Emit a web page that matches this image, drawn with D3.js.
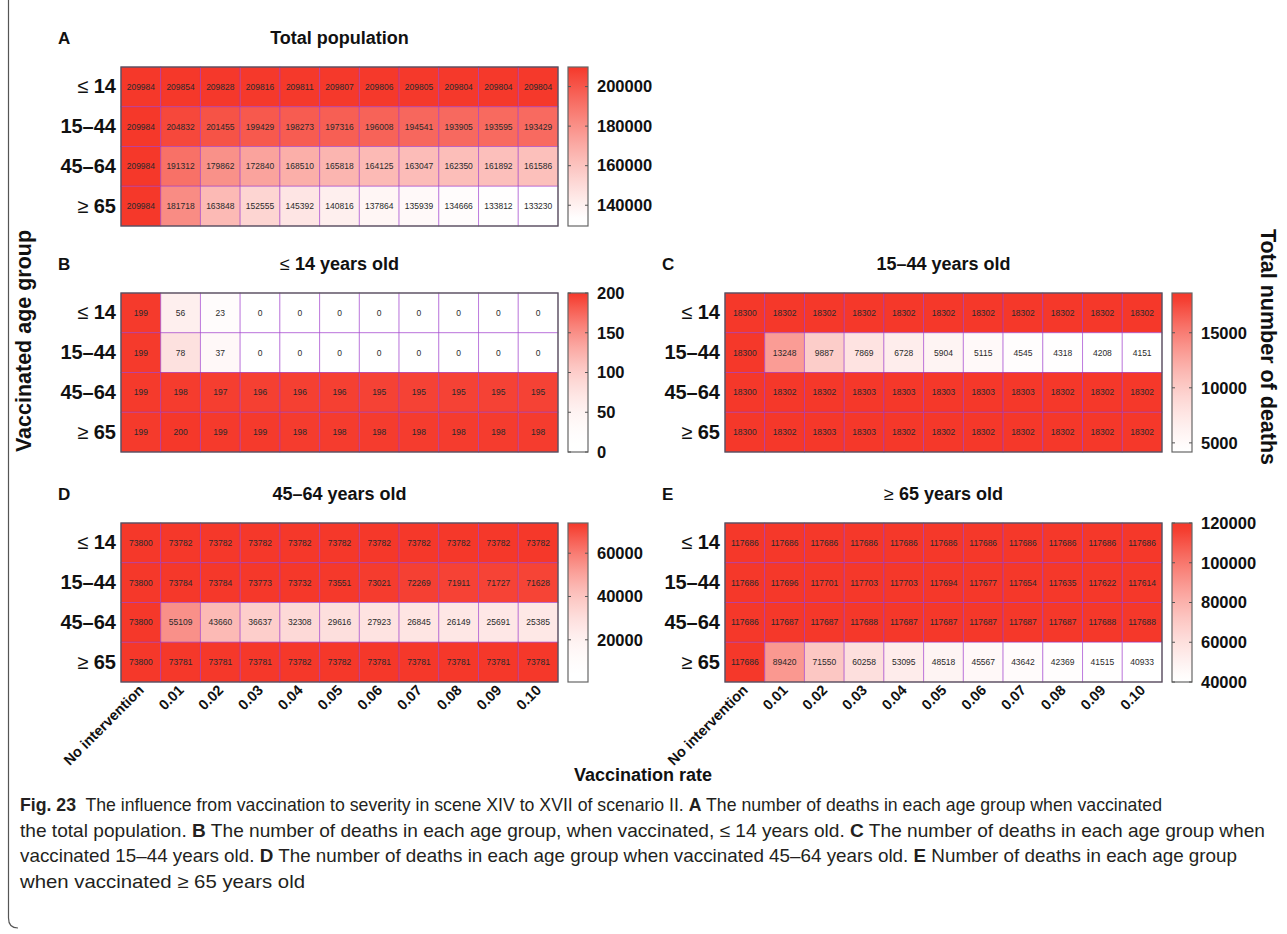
<!DOCTYPE html>
<html>
<head>
<meta charset="utf-8">
<script src="https://cdn.jsdelivr.net/npm/d3@7"></script>
<style>
  body { margin: 0; background: #fff; }
  svg { display: block; }
</style>
</head>
<body>
<div id="chart"></div>
<script>
// Vaccination rate columns and age-group rows
const rates = ['No intervention', '0.01', '0.02', '0.03', '0.04', '0.05', '0.06', '0.07', '0.08', '0.09', '0.10'];
const ageGroups = ['≤ 14', '15–44', '45–64', '≥ 65'];

// A: total population vaccinated
const deathsA = [
  [209984, 209854, 209828, 209816, 209811, 209807, 209806, 209805, 209804, 209804, 209804],
  [209984, 204832, 201455, 199429, 198273, 197316, 196008, 194541, 193905, 193595, 193429],
  [209984, 191312, 179862, 172840, 168510, 165818, 164125, 163047, 162350, 161892, 161586],
  [209984, 181718, 163848, 152555, 145392, 140816, 137864, 135939, 134666, 133812, 133230]
];
// B: <=14 vaccinated
const deathsB = [
  [199, 56, 23, 0, 0, 0, 0, 0, 0, 0, 0],
  [199, 78, 37, 0, 0, 0, 0, 0, 0, 0, 0],
  [199, 198, 197, 196, 196, 196, 195, 195, 195, 195, 195],
  [199, 200, 199, 199, 198, 198, 198, 198, 198, 198, 198]
];
// C: 15-44 vaccinated
const deathsC = [
  [18300, 18302, 18302, 18302, 18302, 18302, 18302, 18302, 18302, 18302, 18302],
  [18300, 13248, 9887, 7869, 6728, 5904, 5115, 4545, 4318, 4208, 4151],
  [18300, 18302, 18302, 18303, 18303, 18303, 18303, 18303, 18302, 18302, 18302],
  [18300, 18302, 18303, 18303, 18302, 18302, 18302, 18302, 18302, 18302, 18302]
];
// D: 45-64 vaccinated
const deathsD = [
  [73800, 73782, 73782, 73782, 73782, 73782, 73782, 73782, 73782, 73782, 73782],
  [73800, 73784, 73784, 73773, 73732, 73551, 73021, 72269, 71911, 71727, 71628],
  [73800, 55109, 43660, 36637, 32308, 29616, 27923, 26845, 26149, 25691, 25385],
  [73800, 73781, 73781, 73781, 73782, 73782, 73781, 73781, 73781, 73781, 73781]
];
// E: >=65 vaccinated
const deathsE = [
  [117686, 117686, 117686, 117686, 117686, 117686, 117686, 117686, 117686, 117686, 117686],
  [117686, 117696, 117701, 117703, 117703, 117694, 117677, 117654, 117635, 117622, 117614],
  [117686, 117687, 117687, 117688, 117687, 117687, 117687, 117687, 117687, 117688, 117688],
  [117686, 89420, 71550, 60258, 53095, 48518, 45567, 43642, 42369, 41515, 40933]
];

// colour bar tick labels
const ticksA = [140000, 160000, 180000, 200000];
const ticksB = [0, 50, 100, 150, 200];
const ticksC = [5000, 10000, 15000];
const ticksD = [20000, 40000, 60000];
const ticksE = [40000, 60000, 80000, 100000, 120000];

// colour limits [low, high] and colour-bar extent [low, high]
const colorLimA = [133230, 209984], barLimA = [129500, 209900];
const colorLimB = [0, 200],         barLimB = [0, 200];
const colorLimC = [4151, 18303],    barLimC = [4170, 18610];
const colorLimD = [4000, 73800],    barLimD = [500, 73950];
const colorLimE = [40933, 117703],  barLimE = [40000, 120000];

const W = 1287, H = 934;
const RED = '#f5382a';
const FONT = '"Liberation Sans", Arial, sans-serif';

const svg = d3.select('#chart').append('svg')
  .attr('width', W).attr('height', H)
  .attr('font-family', FONT);

svg.append('rect').attr('width', W).attr('height', H).attr('fill', '#fff');

const panels = [
  { key: 'A', title: 'Total population', data: deathsA, ticks: ticksA, cLim: colorLimA, bLim: barLimA, x: 121, y: 67,  xAxis: false },
  { key: 'B', title: '≤ 14 years old',   data: deathsB, ticks: ticksB, cLim: colorLimB, bLim: barLimB, x: 121, y: 293, xAxis: false },
  { key: 'C', title: '15–44 years old',  data: deathsC, ticks: ticksC, cLim: colorLimC, bLim: barLimC, x: 725, y: 293, xAxis: false },
  { key: 'D', title: '45–64 years old',  data: deathsD, ticks: ticksD, cLim: colorLimD, bLim: barLimD, x: 121, y: 523, xAxis: true },
  { key: 'E', title: '≥ 65 years old',   data: deathsE, ticks: ticksE, cLim: colorLimE, bLim: barLimE, x: 725, y: 523, xAxis: true }
];

const cellW = 437, cellH = 159;
const barW = 20, barGap = 10;

// splits a leading ≤ / ≥ so it can be drawn in normal weight
function richLabel(sel, txt) {
  sel.text(null);
  const m = txt.match(/^([≤≥])\s*(.*)$/);
  if (m) {
    sel.append('tspan').attr('font-weight', 400).text(m[1] + ' ');
    sel.append('tspan').text(m[2]);
  } else {
    sel.text(txt);
  }
}

panels.forEach(p => {
  const g = svg.append('g').attr('transform', `translate(${p.x},${p.y})`);

  const x = d3.scaleBand().domain(rates).range([0, cellW]);
  const y = d3.scaleBand().domain(ageGroups).range([0, cellH]);

  const tScale = d3.scalePow().exponent(2).domain(p.cLim).range([0, 1]).clamp(true);
  const colour = v => d3.interpolateRgb('#ffffff', RED)(tScale(v));

  const cells = [];
  p.data.forEach((row, i) => row.forEach((v, j) => cells.push({ r: ageGroups[i], c: rates[j], v })));

  g.selectAll('rect.cell').data(cells).join('rect')
    .attr('class', 'cell')
    .attr('x', d => x(d.c)).attr('y', d => y(d.r))
    .attr('width', x.bandwidth()).attr('height', y.bandwidth())
    .attr('fill', d => colour(d.v))
    .attr('stroke', '#9932cc').attr('stroke-opacity', 0.5).attr('stroke-width', 1);

  g.selectAll('text.val').data(cells).join('text')
    .attr('class', 'val')
    .attr('x', d => x(d.c) + x.bandwidth() / 2)
    .attr('y', d => y(d.r) + y.bandwidth() / 2)
    .attr('dy', '0.35em')
    .attr('text-anchor', 'middle')
    .attr('font-size', 8.5)
    .attr('fill', '#2a2a2a')
    .text(d => d.v);

  g.append('rect')
    .attr('width', cellW).attr('height', cellH)
    .attr('fill', 'none').attr('stroke', '#555').attr('stroke-width', 1.3);

  // row labels
  const yAxis = g.append('g').call(d3.axisLeft(y).tickSize(0).tickPadding(5));
  yAxis.select('.domain').remove();
  yAxis.selectAll('text')
    .attr('font-family', FONT).attr('font-size', 20).attr('font-weight', 700).attr('fill', '#111')
    .each(function (d) { richLabel(d3.select(this), d); });

  // column labels
  if (p.xAxis) {
    const xAxis = g.append('g').attr('transform', `translate(0,${cellH})`)
      .call(d3.axisBottom(x).tickSize(0));
    xAxis.select('.domain').remove();
    xAxis.selectAll('text')
      .attr('font-family', FONT).attr('font-size', 14.5).attr('font-weight', 700).attr('fill', '#111')
      .attr('text-anchor', 'end')
      .attr('transform', 'translate(4,9) rotate(-45)')
      .attr('dy', 0).attr('y', 0).attr('x', 0);
  }

  // panel letter and title
  svg.append('text').attr('x', p.x - 63).attr('y', p.y - 23)
    .attr('font-size', 17).attr('font-weight', 700).attr('fill', '#111').text(p.key);
  svg.append('text').attr('x', p.x + cellW / 2).attr('y', p.y - 23)
    .attr('text-anchor', 'middle').attr('font-size', 18).attr('font-weight', 700).attr('fill', '#111')
    .each(function () { richLabel(d3.select(this), p.title); });

  // colour bar
  const bx = cellW + barGap;
  const ly = d3.scaleLinear().domain(p.bLim).range([cellH, 0]);
  const gid = 'grad' + p.key;
  const grad = svg.append('defs').append('linearGradient').attr('id', gid)
    .attr('x1', 0).attr('y1', 1).attr('x2', 0).attr('y2', 0);
  d3.range(0, 1.0001, 0.05).forEach(f => {
    const v = p.bLim[0] + f * (p.bLim[1] - p.bLim[0]);
    grad.append('stop').attr('offset', f).attr('stop-color', colour(v));
  });
  const bar = g.append('g').attr('transform', `translate(${bx},0)`);
  bar.append('rect').attr('width', barW).attr('height', cellH)
    .attr('fill', `url(#${gid})`).attr('stroke', '#666').attr('stroke-width', 1.2);
  bar.selectAll('line.tl').data(p.ticks).join('line').attr('class', 'tl')
    .attr('x1', 0).attr('x2', 3).attr('y1', d => ly(d)).attr('y2', d => ly(d))
    .attr('stroke', '#555');
  bar.selectAll('line.tr').data(p.ticks).join('line').attr('class', 'tr')
    .attr('x1', barW - 3).attr('x2', barW).attr('y1', d => ly(d)).attr('y2', d => ly(d))
    .attr('stroke', '#555');
  const lAxis = bar.append('g').attr('transform', `translate(${barW},0)`)
    .call(d3.axisRight(ly).tickValues(p.ticks).tickSize(0).tickPadding(9).tickFormat(d3.format('d')));
  lAxis.select('.domain').remove();
  lAxis.selectAll('text')
    .attr('font-family', FONT).attr('font-size', 16.5).attr('font-weight', 700).attr('fill', '#111');
});

// shared axis titles
svg.append('text')
  .attr('transform', 'translate(31,341) rotate(-90)')
  .attr('text-anchor', 'middle').attr('font-size', 21.5).attr('font-weight', 700).attr('fill', '#111')
  .text('Vaccinated age group');
svg.append('text')
  .attr('transform', 'translate(1261,347) rotate(90)')
  .attr('text-anchor', 'middle').attr('font-size', 21.5).attr('font-weight', 700).attr('fill', '#111')
  .text('Total number of deaths');
svg.append('text')
  .attr('x', 643).attr('y', 781)
  .attr('text-anchor', 'middle').attr('font-size', 18).attr('font-weight', 700).attr('fill', '#111')
  .text('Vaccination rate');

// caption
const captionLines = [
  [['b', 'Fig. 23'], ['n', '  The influence from vaccination to severity in scene XIV to XVII of scenario II. '], ['b', 'A'], ['n', ' The number of deaths in each age group when vaccinated']],
  [['n', 'the total population. '], ['b', 'B'], ['n', ' The number of deaths in each age group, when vaccinated, ≤ 14 years old. '], ['b', 'C'], ['n', ' The number of deaths in each age group when']],
  [['n', 'vaccinated 15–44 years old. '], ['b', 'D'], ['n', ' The number of deaths in each age group when vaccinated 45–64 years old. '], ['b', 'E'], ['n', ' Number of deaths in each age group']],
  [['n', 'when vaccinated ≥ 65 years old']]
];
const captionWidths = [1142, 1245, 1217, 285];
const cap = svg.append('g').attr('font-family', '"Liberation Sans Narrow", "Liberation Sans", sans-serif')
  .attr('font-size', 18.5).attr('fill', '#231f20');
captionLines.forEach((line, i) => {
  const t = cap.append('text').attr('x', 20).attr('y', 811 + i * 25.6)
    .attr('textLength', captionWidths[i]).attr('lengthAdjust', 'spacingAndGlyphs')
    .attr('xml:space', 'preserve');
  line.forEach(([w, s]) => t.append('tspan').attr('font-weight', w === 'b' ? 700 : 400).text(s));
});

// figure frame
svg.append('path')
  .attr('d', 'M8.5,0 V918 Q8.5,928 18,928')
  .attr('fill', 'none').attr('stroke', '#555').attr('stroke-width', 1.2);
</script>
</body>
</html>
